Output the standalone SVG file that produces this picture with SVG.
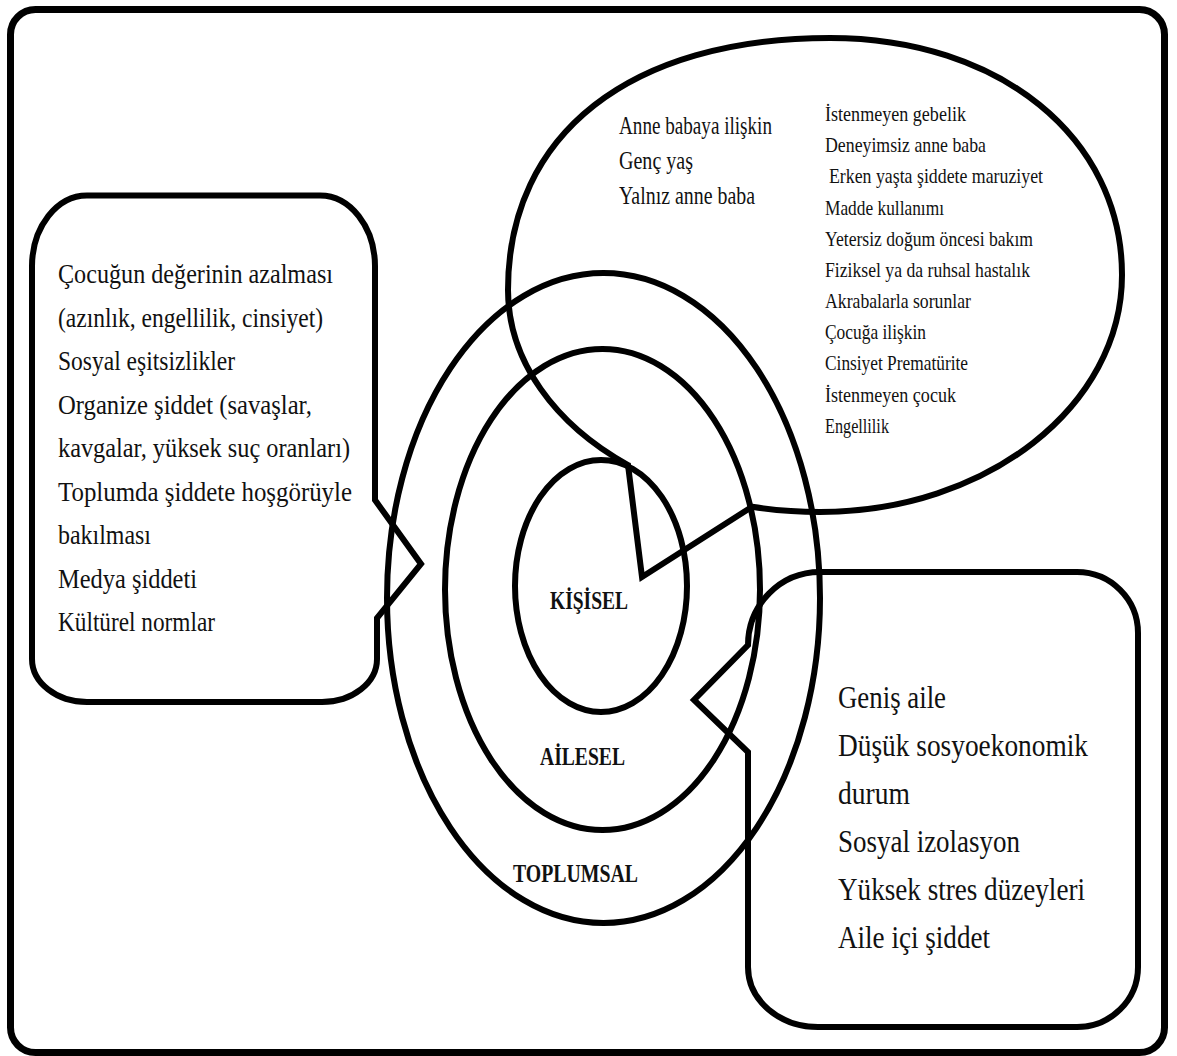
<svg xmlns="http://www.w3.org/2000/svg" width="1177" height="1056" viewBox="0 0 1177 1056">
<style>
.ln{fill:none;stroke:#000;stroke-width:6;stroke-linejoin:miter}
.t{font-family:"Liberation Serif","Times New Roman",serif;fill:#111}
.lb{font-family:"Liberation Serif","Times New Roman",serif;font-weight:bold;fill:#111;font-size:26px}
.s28{font-size:28px}
.s32{font-size:32px}
.s25{font-size:25px}
.s21{font-size:21px}
</style>
<rect x="0" y="0" width="1177" height="1056" fill="#fff"/>
<g id="frame">
<rect x="10.5" y="9.5" width="1154" height="1043" rx="25" ry="25" fill="none" stroke="#000" stroke-width="7"/>
</g>
<g id="rings">
<ellipse id="ring-toplumsal" class="ln" cx="603.5" cy="598" rx="216.5" ry="325"/>
<ellipse id="ring-ailesel" class="ln" cx="602.5" cy="589.5" rx="157.5" ry="240.5"/>
<ellipse id="ring-kisisel" class="ln" cx="601" cy="586" rx="86" ry="126"/>
</g>
<g id="node-kisisel">
<text class="lb" x="550" y="609" textLength="78" lengthAdjust="spacingAndGlyphs">KİŞİSEL</text>
</g>
<g id="node-ailesel">
<text class="lb" x="540" y="765" textLength="85" lengthAdjust="spacingAndGlyphs">AİLESEL</text>
</g>
<g id="node-toplumsal">
<text class="lb" x="513" y="882" textLength="125" lengthAdjust="spacingAndGlyphs">TOPLUMSAL</text>
</g>
<g id="node-bireysel-callout">
<path class="ln" d="M628 465 C555 424.4 508 361 508 290 C508 133.8 630.4 38 830 38 C999.4 38 1122 137.5 1122 275 C1122 405.8 986.7 512 820 512 C796.8 512 774.1 510.2 752 506.8 L642 577 Z"/>
<g class="t s25">
<text x="619" y="134" textLength="153" lengthAdjust="spacingAndGlyphs">Anne babaya ilişkin</text>
<text x="619" y="169" textLength="74" lengthAdjust="spacingAndGlyphs">Genç yaş</text>
<text x="619" y="204" textLength="136" lengthAdjust="spacingAndGlyphs">Yalnız anne baba</text>
</g>
<g class="t s21">
<text x="825" y="121" textLength="141" lengthAdjust="spacingAndGlyphs">İstenmeyen gebelik</text>
<text x="825" y="152" textLength="161" lengthAdjust="spacingAndGlyphs">Deneyimsiz anne baba</text>
<text x="829" y="183" textLength="214" lengthAdjust="spacingAndGlyphs">Erken yaşta şiddete maruziyet</text>
<text x="825" y="215" textLength="119" lengthAdjust="spacingAndGlyphs">Madde kullanımı</text>
<text x="825" y="246" textLength="208" lengthAdjust="spacingAndGlyphs">Yetersiz doğum öncesi bakım</text>
<text x="825" y="277" textLength="205" lengthAdjust="spacingAndGlyphs">Fiziksel ya da ruhsal hastalık</text>
<text x="825" y="308" textLength="146" lengthAdjust="spacingAndGlyphs">Akrabalarla sorunlar</text>
<text x="825" y="339" textLength="101" lengthAdjust="spacingAndGlyphs">Çocuğa ilişkin</text>
<text x="825" y="370" textLength="143" lengthAdjust="spacingAndGlyphs">Cinsiyet Prematürite</text>
<text x="825" y="402" textLength="131" lengthAdjust="spacingAndGlyphs">İstenmeyen çocuk</text>
<text x="825" y="433" textLength="64" lengthAdjust="spacingAndGlyphs">Engellilik</text>
</g>
</g>
<g id="node-toplumsal-callout">
<path class="ln" d="M87 195.5 L320 195.5 A55 71 0 0 1 375 266 L375 500 L421 564 L377 618 L377 659 A55 43 0 0 1 322 702 L87 702 A55 43 0 0 1 32 659 L32 266 A55 71 0 0 1 87 195.5 Z"/>
<g class="t s28">
<text x="58" y="283" textLength="275" lengthAdjust="spacingAndGlyphs">Çocuğun değerinin azalması</text>
<text x="58" y="326.5" textLength="265" lengthAdjust="spacingAndGlyphs">(azınlık, engellilik, cinsiyet)</text>
<text x="58" y="370" textLength="177" lengthAdjust="spacingAndGlyphs">Sosyal eşitsizlikler</text>
<text x="58" y="413.5" textLength="254" lengthAdjust="spacingAndGlyphs">Organize şiddet (savaşlar,</text>
<text x="58" y="457" textLength="292" lengthAdjust="spacingAndGlyphs">kavgalar, yüksek suç oranları)</text>
<text x="58" y="500.5" textLength="294" lengthAdjust="spacingAndGlyphs">Toplumda şiddete hoşgörüyle</text>
<text x="58" y="544" textLength="93" lengthAdjust="spacingAndGlyphs">bakılması</text>
<text x="58" y="587.5" textLength="139" lengthAdjust="spacingAndGlyphs">Medya şiddeti</text>
<text x="58" y="631" textLength="157" lengthAdjust="spacingAndGlyphs">Kültürel normlar</text>
</g>
</g>
<g id="node-ailesel-callout">
<path class="ln" d="M820 572 L1077 572 A61 61 0 0 1 1138 633 L1138 967 A61 60 0 0 1 1077 1027 L818 1027 A70 60 0 0 1 748 967 L748 752 L694 700 L748 645 A72 73 0 0 1 820 572 Z"/>
<g class="t s32">
<text x="838" y="708" textLength="108" lengthAdjust="spacingAndGlyphs">Geniş aile</text>
<text x="838" y="756" textLength="250" lengthAdjust="spacingAndGlyphs">Düşük sosyoekonomik</text>
<text x="838" y="804" textLength="72" lengthAdjust="spacingAndGlyphs">durum</text>
<text x="838" y="852" textLength="182" lengthAdjust="spacingAndGlyphs">Sosyal izolasyon</text>
<text x="838" y="900" textLength="247" lengthAdjust="spacingAndGlyphs">Yüksek stres düzeyleri</text>
<text x="838" y="948" textLength="152" lengthAdjust="spacingAndGlyphs">Aile içi şiddet</text>
</g>
</g>
<g id="connectors"></g>
</svg>
